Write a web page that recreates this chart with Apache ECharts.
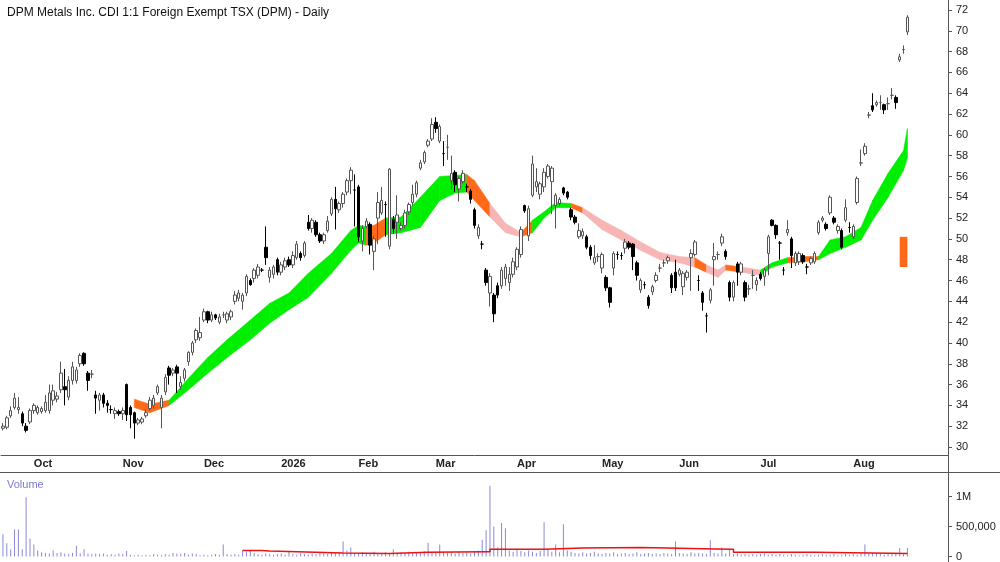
<!DOCTYPE html>
<html><head><meta charset="utf-8">
<script src="https://cdn.jsdelivr.net/npm/echarts@6/dist/echarts.min.js"></script>
<style>html,body{margin:0;padding:0;background:#fff}#c{width:1000px;height:562px}</style>
</head><body><div id="c"></div>
<script>
// OHLC as [open, close, low, high]
const ohlc = [
[31.8,32.0,31.6,32.3],[31.9,32.8,31.7,33.0],[33.0,33.5,32.8,33.9],[33.8,34.7,33.6,35.2],[33.6,33.8,33.2,34.8],
[33.2,32.3,32.0,33.4],[32.0,31.6,31.4,32.3],[32.4,33.5,32.2,33.7],[33.5,34.0,33.2,34.2],[33.3,33.8,33.1,34.0],
[33.4,33.7,33.2,33.9],[33.5,34.3,33.3,35.0],[33.5,35.2,33.2,36.0],[34.5,35.4,34.0,36.0],[34.6,34.9,34.3,35.3],
[35.5,37.1,35.2,38.2],[35.8,35.5,34.0,37.5],[34.8,36.4,34.5,36.8],[36.4,37.7,36.0,38.2],[36.4,37.4,36.1,37.7],
[38.0,38.8,37.7,39.0],[39.0,38.0,37.8,39.1],[37.1,36.4,35.4,37.3],[37.0,37.0,36.6,37.4],[35.0,34.7,33.2,35.4],
[34.5,35.0,33.5,35.2],[35.0,34.2,33.8,35.2],[34.2,34.0,33.3,34.5],[33.6,33.6,33.2,34.0],[33.2,33.5,32.7,33.8],
[33.4,33.2,33.0,33.6],[33.2,33.5,32.6,33.8],[36.0,33.1,32.5,36.1],[33.8,33.1,31.8,34.0],[33.3,32.3,30.8,33.4],
[32.3,32.6,32.1,32.8],[32.4,32.7,32.2,32.9],[33.0,33.3,32.8,33.6],[33.7,34.5,33.5,34.8],[34.0,34.7,33.7,35.0],
[35.2,35.8,35.0,36.0],[33.8,34.7,31.8,35.0],[35.3,36.7,35.0,37.0],[37.6,36.9,36.0,37.8],[37.1,37.4,36.8,37.6],
[37.7,37.1,35.2,37.9],[35.8,36.2,35.5,36.8],[36.6,37.4,36.3,37.6],[38.2,39.1,37.8,39.2],[39.1,40.0,38.8,40.2],
[40.3,41.2,40.0,41.4],[40.5,41.0,40.2,42.5],[42.2,43.0,42.0,43.3],[43.0,42.2,41.9,43.1],[42.2,42.7,42.0,43.0],
[42.7,42.4,42.2,42.8],[42.0,42.5,41.8,42.8],[42.7,42.7,42.4,43.0],[42.2,42.8,41.9,43.0],[42.5,43.0,42.2,43.2],
[44.0,44.6,43.7,45.0],[44.3,44.8,44.0,45.1],[44.0,44.6,43.2,44.8],[44.8,46.4,44.5,46.6],[46.0,45.6,45.5,46.2],
[46.2,47.0,45.8,47.2],[46.5,47.3,46.2,47.6],[47.0,47.0,46.8,47.2],[49.2,48.2,47.5,51.2],[46.3,47.0,45.8,47.3],
[46.6,47.3,46.2,47.5],[48.0,46.8,46.5,48.2],[46.8,47.5,46.5,47.8],[47.3,47.9,47.0,48.2],[48.0,47.5,47.3,48.3],
[47.5,48.4,47.2,48.8],[48.2,49.5,48.0,49.8],[48.6,48.2,47.9,48.8],[48.4,49.6,48.2,49.8],[51.6,51.0,50.8,52.3],
[51.0,51.8,50.6,52.0],[51.6,50.4,50.2,51.8],[50.4,49.8,49.6,50.6],[49.8,50.4,49.5,50.6],[50.8,51.7,50.6,52.2],
[52.4,53.8,52.2,54.0],[53.8,52.9,50.9,55.0],[52.8,53.4,52.5,53.6],[53.4,54.3,53.0,54.5],[54.5,55.6,54.2,55.8],
[55.6,56.6,54.3,56.9],[54.7,54.7,51.2,56.2],[55.0,50.2,49.7,55.2],[49.8,51.0,48.8,51.3],[51.2,51.7,51.0,52.0],
[51.4,49.4,48.5,51.6],[48.8,50.0,47.0,50.3],[52.0,53.5,49.5,54.5],[52.5,53.7,52.3,55.0],[53.3,53.3,50.2,53.6],
[49.3,56.7,49.0,56.8],[51.9,51.0,50.5,52.2],[51.6,52.3,50.0,54.2],[51.0,51.3,50.8,51.6],[51.3,52.5,51.0,52.8],
[52.6,53.3,52.3,53.5],[53.5,54.3,53.2,55.2],[54.3,55.4,54.0,55.6],[56.8,57.3,56.6,57.6],[57.4,58.3,57.2,58.5],
[59.0,59.4,58.8,59.6],[59.6,61.0,59.4,61.6],[61.2,60.6,60.2,61.7],[59.4,60.8,59.2,61.0],[58.2,58.2,57.0,59.4],
[58.8,58.8,57.6,60.0],[55.6,56.3,54.7,58.0],[56.4,55.2,54.5,56.6],[54.8,55.8,53.6,56.0],[55.5,56.3,55.3,56.6],
[55.0,55.0,54.5,55.3],[54.6,53.8,53.4,54.8],[52.8,51.3,51.0,53.0],[50.3,51.1,50.0,51.4],[49.5,49.5,49.0,49.8],
[47.0,45.8,45.5,47.2],[44.8,46.4,43.5,46.7],[44.6,42.8,42.0,44.8],[45.5,44.6,44.3,45.8],[45.5,47.0,45.2,47.3],
[46.2,47.3,45.5,47.6],[45.8,46.6,45.0,47.3],[46.6,47.8,46.3,48.2],[47.3,49.0,47.0,49.2],[48.5,50.9,48.2,51.2],
[53.2,52.7,52.5,53.3],[50.3,52.9,49.8,53.2],[54.2,57.2,54.0,58.0],[55.0,55.5,54.5,56.8],[54.3,55.3,53.8,55.5],
[55.0,56.4,54.5,56.8],[56.0,57.0,55.8,57.2],[55.5,56.8,52.4,57.0],[53.2,54.2,51.0,54.4],[53.4,53.8,53.2,54.0],
[54.9,54.4,54.2,55.0],[54.5,54.0,53.8,54.6],[52.8,52.1,51.8,53.0],[52.1,51.6,51.4,52.3],[50.2,50.8,50.0,51.5],
[50.3,50.7,50.0,51.0],[50.2,49.2,49.0,50.4],[49.2,48.4,48.0,49.4],[47.7,48.2,47.5,49.4],[48.3,48.3,47.8,48.6],
[47.2,48.5,46.7,48.7],[46.3,45.3,45.0,46.5],[45.3,43.9,43.4,45.4],[47.2,48.6,46.5,48.8],[48.5,48.5,48.0,48.8],
[48.4,48.4,48.0,48.7],[49.1,49.7,48.6,50.0],[49.6,49.2,49.0,49.8],[49.5,48.3,47.0,49.6],[47.7,46.5,46.0,47.9],
[45.1,46.0,44.8,46.2],[45.6,45.6,45.2,45.9],[44.4,43.6,43.3,44.6],[44.9,45.4,44.6,45.6],[46.0,46.5,45.8,46.8],
[47.2,47.2,46.8,47.6],[47.7,47.7,47.3,48.0],[47.9,48.2,47.6,48.4],[46.5,45.3,44.8,46.7],[46.8,45.3,45.0,48.0],
[46.6,47.0,46.4,47.2],[45.4,46.7,44.6,46.9],[46.3,46.8,46.0,47.0],[48.2,48.6,45.0,49.0],[48.5,49.7,48.3,49.9],
[46.0,46.0,45.0,46.5],[44.8,43.9,43.1,45.0],[42.6,42.6,41.0,42.9],[44.1,45.1,43.8,45.3],[48.0,48.3,45.5,49.6],
[48.5,48.5,48.0,48.8],[49.6,50.2,49.3,50.5],[48.8,48.3,48.0,49.0],[45.8,44.4,44.0,46.0],[44.4,45.8,44.0,46.0],
[47.6,46.8,45.5,47.8],[46.8,47.6,46.5,47.8],[45.8,44.4,44.0,46.0],[45.2,45.2,44.6,45.6],[46.5,46.5,45.2,47.0],
[45.6,46.0,45.0,46.3],[46.6,46.2,46.0,46.8],[46.4,47.0,45.5,47.2],[48.6,50.2,46.5,50.4],[51.8,51.3,51.2,51.9],
[51.3,50.4,50.0,51.4],[49.6,49.6,48.0,49.8],[47.0,47.0,46.5,47.3],[50.6,50.9,50.3,51.8],[50.0,48.4,47.2,50.2],
[47.7,48.6,47.4,48.8],[47.8,48.6,47.5,48.8],[48.4,47.8,47.6,48.6],[47.3,47.3,46.6,47.6],[47.7,48.1,47.5,48.3],
[47.8,48.6,47.6,48.8],[50.6,51.6,50.4,51.8],[51.8,52.0,51.6,52.2],[51.4,51.0,50.8,51.6],[52.5,54.0,52.3,54.2],
[52.0,51.6,51.4,52.2],[50.8,51.2,50.5,51.4],[50.8,49.2,49.0,51.0],[51.8,53.0,51.6,53.8],[51.1,51.1,50.6,51.6],
[50.2,51.2,50.0,51.4],[53.5,55.8,53.3,56.0],[57.3,57.3,57.0,58.6],[58.2,58.9,58.0,59.2],[61.9,61.9,61.6,62.2],
[62.8,62.4,62.2,64.0],[62.9,63.1,62.7,63.3],[63.1,63.1,62.4,63.8],[62.9,62.4,62.0,63.0],[63.0,63.0,62.4,63.6],
[63.8,63.8,63.4,64.5],[63.6,63.1,62.5,63.8],[67.2,67.5,67.0,67.8],[68.2,68.2,67.8,68.6],[69.9,71.3,69.6,71.5]
];
// volume in millions
const volume = [
0.37,0.22,0.12,0.45,0.45,0.12,0.99,0.30,0.20,0.10,
0.07,0.06,0.05,0.10,0.06,0.07,0.05,0.04,0.06,0.18,
0.05,0.12,0.05,0.04,0.05,0.04,0.05,0.03,0.04,0.03,
0.05,0.04,0.09,0.03,0.02,0.03,0.02,0.03,0.02,0.04,
0.03,0.02,0.04,0.03,0.06,0.05,0.04,0.06,0.03,0.05,
0.04,0.02,0.03,0.02,0.03,0.04,0.03,0.20,0.04,0.03,
0.04,0.03,0.10,0.08,0.09,0.06,0.04,0.03,0.05,0.04,
0.03,0.04,0.05,0.03,0.08,0.04,0.03,0.05,0.04,0.03,
0.05,0.04,0.06,0.05,0.04,0.07,0.06,0.08,0.25,0.10,
0.15,0.06,0.05,0.07,0.06,0.05,0.08,0.06,0.05,0.07,
0.06,0.12,0.05,0.07,0.06,0.08,0.05,0.07,0.06,0.09,
0.23,0.07,0.06,0.20,0.08,0.06,0.07,0.05,0.08,0.06,
0.07,0.05,0.08,0.10,0.28,0.44,1.18,0.50,0.15,0.56,
0.47,0.10,0.08,0.12,0.09,0.07,0.10,0.08,0.06,0.09,
0.57,0.12,0.08,0.20,0.07,0.54,0.10,0.08,0.06,0.05,
0.07,0.05,0.06,0.08,0.05,0.04,0.06,0.05,0.07,0.04,
0.05,0.06,0.04,0.05,0.07,0.04,0.05,0.06,0.04,0.05,
0.04,0.06,0.05,0.04,0.25,0.06,0.05,0.04,0.07,0.05,
0.06,0.05,0.04,0.27,0.06,0.05,0.15,0.05,0.12,0.04,
0.05,0.03,0.04,0.03,0.04,0.03,0.04,0.05,0.03,0.04,
0.03,0.04,0.03,0.02,0.04,0.03,0.02,0.03,0.04,0.03,
0.02,0.03,0.04,0.03,0.03,0.04,0.02,0.03,0.04,0.03,
0.04,0.03,0.05,0.20,0.04,0.06,0.05,0.04,0.03,0.05,
0.04,0.06,0.14,0.05,0.14
];
// volume average keypoints [barIndex, millions]
const volAvg = [[62,0.10],[67,0.09],[69,0.06],[88,0.05],[100,0.07],[110,0.08],[125,0.08],[126,0.12],[140,0.14],[150,0.15],[165,0.12],[188,0.12],[189,0.07],[210,0.05],[234,0.04]];
// ribbon keypoints [barIndex, upper, lower, colourKey of following segment]
const ribbon = [
[34,34.6,33.8,'o'],[38,34.1,33.3,'o'],[43,34.5,34.0,'g'],[48,36.6,35.5,'g'],[53,38.6,37.1,'g'],
[58,40.3,38.6,'g'],[64,42.2,40.3,'g'],[69,43.8,41.9,'g'],[74,44.8,43.2,'g'],[79,46.7,44.4,'g'],
[85,48.6,46.7,'g'],[90,50.8,48.9,'g'],[92,51.3,49.6,'g'],[94,51.2,49.4,'o'],[96,51.3,49.6,'o'],
[99,52.0,50.4,'g'],[103,52.1,50.6,'g'],
[108,54.0,51.1,'g'],[113,56.0,53.7,'g'],[117,56.1,54.4,'g'],[120,56.2,54.5,'o'],[122,55.6,53.7,'o'],
[126,53.4,52.1,'p'],[130,51.5,50.6,'p'],[134,50.6,50.2,'o'],[137,51.8,50.6,'g'],[140,52.6,52.0,'g'],
[143,53.5,53.0,'g'],[147,53.4,53.0,'o'],[150,53.0,52.5,'p'],[155,51.8,50.9,'p'],[160,50.8,49.9,'p'],
[165,49.7,48.9,'p'],[170,48.7,48.0,'p'],[175,48.3,47.7,'p'],[179,48.2,47.3,'o'],[182,47.5,46.8,'p'],
[185,47.0,46.3,'p'],[187,47.5,47.0,'o'],[191,47.3,46.8,'p'],[196,47.0,46.5,'g'],[199,47.7,47.3,'g'],
[203,48.2,47.7,'o'],[207,48.3,47.8,'o'],[211,48.3,48.0,'g'],[214,49.9,48.6,'g'],[218,50.2,49.2,'g'],
[222,51.1,49.9,'g'],[225,53.7,51.8,'g'],[229,56.3,54.0,'g'],[233,58.5,56.6,'g'],[234,60.6,57.8,'g']
];
const monthTicks = [[8,'Oct'],[31,'Nov'],[52,'Dec'],[72,'2026'],[92,'Feb'],[112,'Mar'],[133,'Apr'],[155,'May'],[175,'Jun'],[196,'Jul'],[220,'Aug']];
const priceTicks = {min:30, max:72, step:2};
const sideMarker = [232,234,47.3,50.2];

const padBars = 10;
const nCat = ohlc.length + padBars;
const cats = []; for (let i=0;i<nCat;i++) cats.push(String(i));
const labelMap = {}; monthTicks.forEach(m=>labelMap[m[0]]=m[1]);
const colours = {g:'#00ee00', o:'#ff6a1a', p:'#f7b5b5'};
const ribbonSegs = [];
for (let k=0;k<ribbon.length-1;k++){
  const a=ribbon[k], b=ribbon[k+1];
  ribbonSegs.push([a[0],a[1],a[2],b[0],b[1],b[2],a[3]]);
}
const volBars = volume.map(v=>v*1e6);
const volLine = volAvg.map(p=>[String(p[0]), p[1]*1e6]);

const chart = echarts.init(document.getElementById('c'));
const txt = '#222';
chart.setOption({
  animation:false,
  backgroundColor:'#fff',
  textStyle:{fontFamily:'Liberation Sans, Arial, sans-serif'},
  title:[{text:'DPM Metals Inc. CDI 1:1 Foreign Exempt TSX (DPM) - Daily', left:2, top:2,
          textStyle:{fontSize:12, fontWeight:'normal', color:'#111'}},
         {text:'Volume', left:2, top:474, textStyle:{fontSize:11, fontWeight:'normal', color:'#7a7ad0'}}],
  grid:[{left:1, right:52, top:10, bottom:115},
        {left:1, right:52, top:475, bottom:4}],
  xAxis:[
    {type:'category', data:cats, gridIndex:0, offset:8,
     axisLine:{lineStyle:{color:'#555'}},
     axisTick:{interval:(i)=>labelMap[i]!==undefined, length:6, lineStyle:{color:'#555'}, inside:false},
     axisLabel:{interval:(i)=>labelMap[i]!==undefined, formatter:(v,i)=>labelMap[i]||'', align:'left',
                margin:3, fontSize:11, fontWeight:'bold', color:txt}},
    {type:'category', data:cats, gridIndex:1, axisLine:{show:false}, axisTick:{show:false}, axisLabel:{show:false}}
  ],
  yAxis:[
    {type:'value', gridIndex:0, position:'right', min:priceTicks.min, max:priceTicks.max, interval:priceTicks.step,
     splitLine:{show:false}, axisLine:{show:false},
     axisTick:{show:true, length:4, lineStyle:{color:'#555'}},
     axisLabel:{fontSize:11, color:txt, margin:8}},
    {type:'value', gridIndex:1, position:'right', min:0, max:1360000, interval:500000,
     splitLine:{show:false}, axisLine:{show:false},
     axisTick:{show:true, length:4, lineStyle:{color:'#555'}},
     axisLabel:{fontSize:11, color:txt, margin:8, showMaxLabel:false,
       formatter:v=> v===0?'0': (v>=1e6? (v/1e6)+'M' : v.toLocaleString('en-US'))}}
  ],
  series:[
    {type:'custom', xAxisIndex:0, yAxisIndex:0, data:ribbonSegs, z:1,
     encode:{x:[0,3], y:[1,2,4,5]},
     renderItem:(params, api)=>{
       const p1=api.coord([api.value(0),api.value(1)]), p2=api.coord([api.value(3),api.value(4)]),
             p3=api.coord([api.value(3),api.value(5)]), p4=api.coord([api.value(0),api.value(2)]);
       const c=colours[ribbonSegs[params.dataIndex][6]];
       return {type:'polygon', shape:{points:[p1,p2,p3,p4]}, style:{fill:c, stroke:c, lineWidth:0.6}};
     }},
    {type:'candlestick', xAxisIndex:0, yAxisIndex:0, data:ohlc.map(d=>[d[0],d[1],d[2],d[3]]), barWidth:3, z:3,
     itemStyle:{color:'#fff', color0:'#000', borderColor:'#555', borderColor0:'#000', borderWidth:1},
     markArea:{silent:true, itemStyle:{color:'#ff6a1a'},
       data:[[{xAxis:String(sideMarker[0]), yAxis:sideMarker[2]},{xAxis:String(sideMarker[1]), yAxis:sideMarker[3]}]]}},
    {type:'bar', xAxisIndex:1, yAxisIndex:1, data:volBars, barWidth:1, itemStyle:{color:'#8a8ad8'}},
    {type:'line', xAxisIndex:1, yAxisIndex:1, data:volLine, step:'end', symbol:'none',
     lineStyle:{color:'#ee1111', width:1.5}}
  ],
  graphic:[
    {type:'line', shape:{x1:948.5,y1:0,x2:948.5,y2:562}, style:{stroke:'#555', lineWidth:1}},
    {type:'line', shape:{x1:0,y1:472.5,x2:1000,y2:472.5}, style:{stroke:'#555', lineWidth:1}}
  ]
});
</script></body></html>
